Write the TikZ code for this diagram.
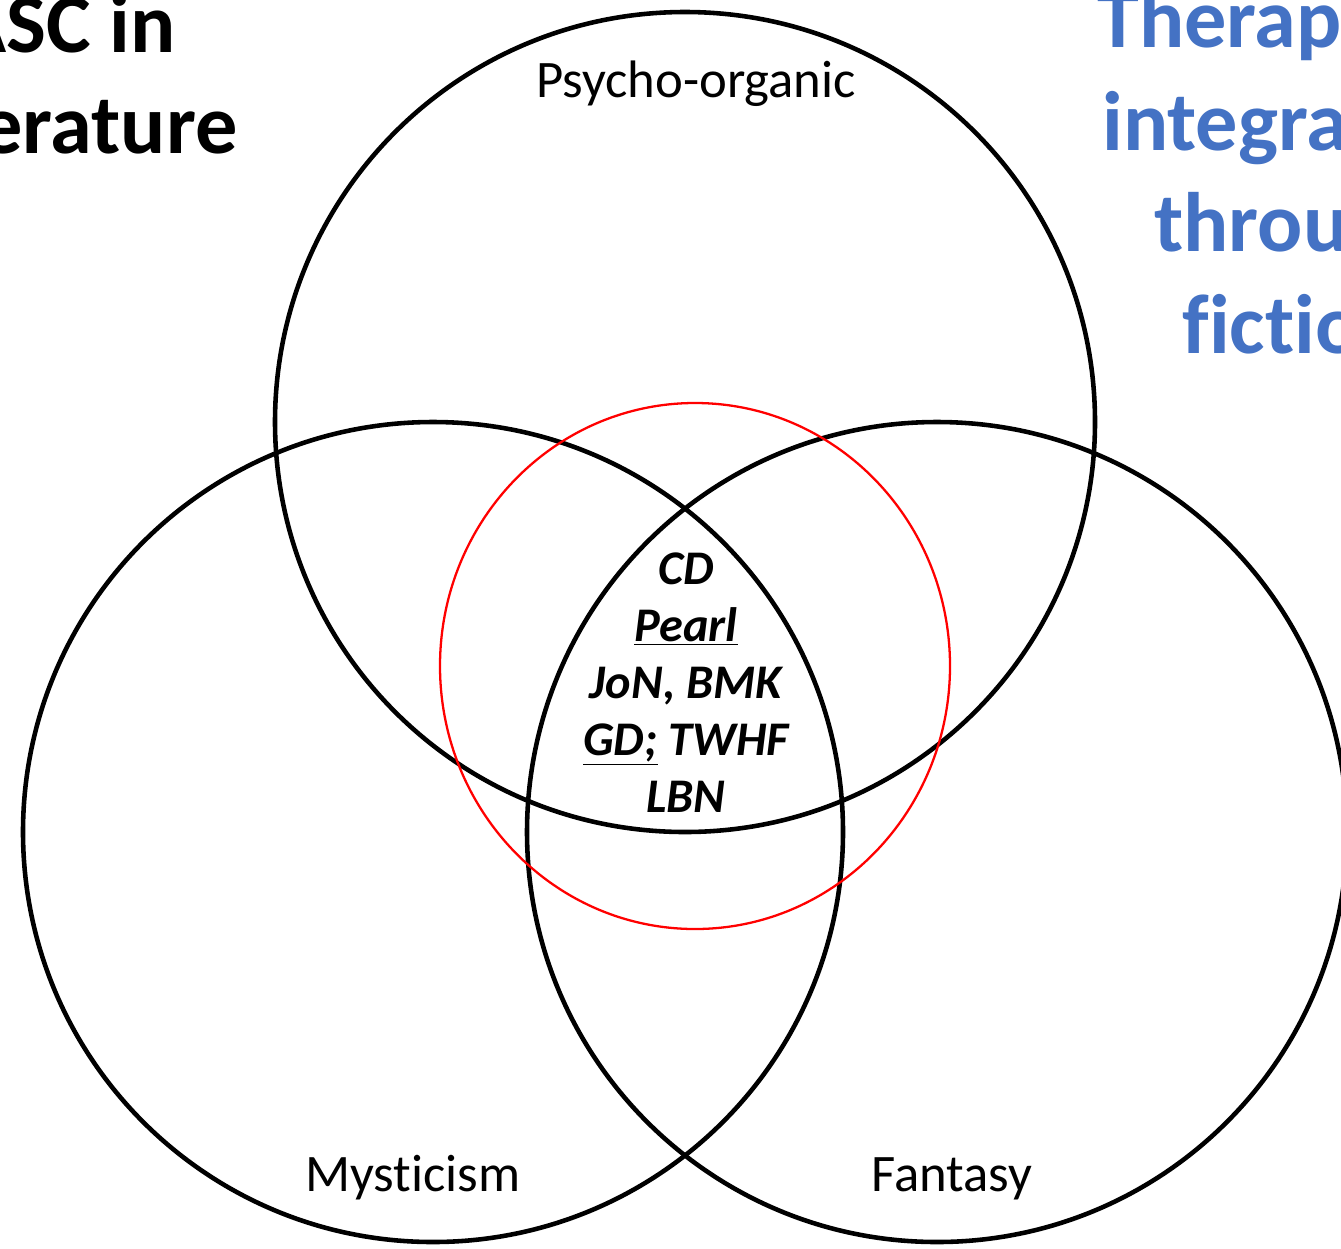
\documentclass[tikz,border=0pt]{standalone}
\usepackage{fontspec}
\setmainfont{Carlito}[RawFeature={-liga;-clig;-rlig;-dlig;-calt}]
\definecolor{titleblue}{RGB}{68,114,196}
\definecolor{ringred}{RGB}{255,0,0}
\tikzset{
  venn/.style={line width=2.6pt,black},
  focus/.style={line width=1.3pt,ringred},
  setlabel/.style={inner sep=0pt,anchor=base,font=\fontsize{30}{36}\selectfont},
  corelabel/.style={inner sep=0pt,anchor=base,font=\fontsize{27.5}{33}\selectfont\bfseries\itshape},
  headline/.style={inner sep=0pt,font=\fontsize{48}{57}\selectfont\bfseries}
}
\begin{document}
\begin{tikzpicture}[x=0.02cm,y=-0.02cm]
\useasboundingbox (0,0) rectangle (1341,1248);
\clip (0,0) rectangle (1341,1248);
% the three sets
\draw[venn] (685,422) circle[radius=410];
\draw[venn] (433,832) circle[radius=410];
\draw[venn] (937,832) circle[radius=410];
% focus ring
\draw[focus] (695,666) ellipse[x radius=255,y radius=263];
\node[setlabel] (psy) at (696,97) {Psycho-organic};
\node[setlabel] (mys) at (413,1191) {Mysticism};
\node[setlabel] (fan) at (952,1191) {Fantasy};
% works in the centre
\foreach \t [count=\i] in {CD,\underline{Pearl},{JoN, BMK},{\underline{GD;} TWHF},LBN}
  \node[corelabel] (core\i) at (686,{584+57.2*(\i-1)}) {\t};
% side titles, cut at the page edge
\node[headline,anchor=base east] (asc) at (176,52) {ASC in};
\node[headline,anchor=base east] (lit) at (238,153) {erature};
\node[headline,anchor=base west,titleblue] (the) at (1097,47) {Therape};
\node[headline,anchor=base west,titleblue] (int) at (1102,150) {integra};
\node[headline,anchor=base west,titleblue] (thr) at (1154,251) {throu};
\node[headline,anchor=base west,titleblue] (fic) at (1182,353) {fictio};
\end{tikzpicture}
\end{document}
